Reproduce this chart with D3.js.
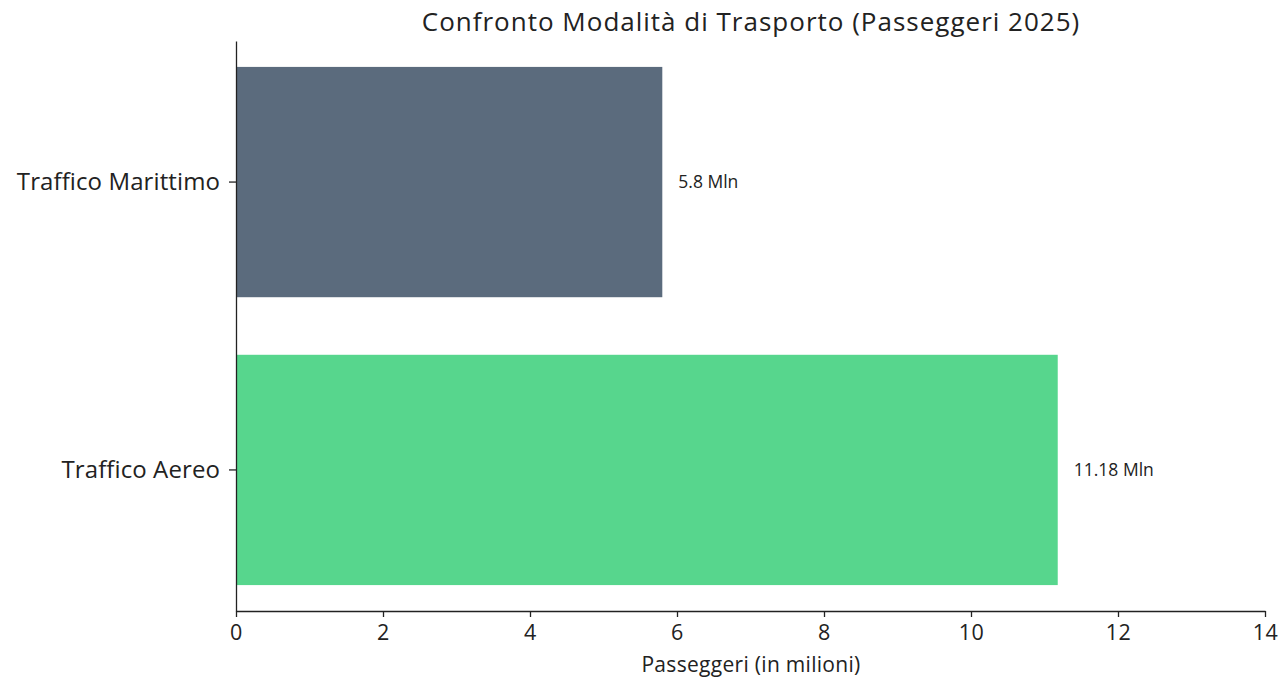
<!DOCTYPE html>
<html><head><meta charset="utf-8">
<script src="https://cdn.jsdelivr.net/npm/d3@7"></script>
<style>body{margin:0;background:#fff;} svg{display:block;} svg text{font-family:"Open Sans", "Noto Sans", sans-serif;}</style>
</head><body>
<svg id="c" width="1281" height="684"></svg>
<script>
const categories = ["Traffico Marittimo", "Traffico Aereo"];
const values = [5.8, 11.18];
const valueLabels = ["5.8 Mln", "11.18 Mln"];
const colors = ["#5b6b7d", "#57d68d"];
const xTicks = [0, 2, 4, 6, 8, 10, 12, 14];
const title = "Confronto Modalità di Trasporto (Passeggeri 2025)";
const xTitle = "Passeggeri (in milioni)";

const FONT = '"Open Sans", "Noto Sans", sans-serif';
const svg = d3.select("#c");
const m = {left: 236, right: 16, top: 41, bottom: 73};
const W = 1281, H = 684;
const x = d3.scaleLinear().domain([0, 14]).range([m.left, W - m.right]);
const y = d3.scaleBand().domain(categories).range([m.top, H - m.bottom]).paddingInner(0.2).paddingOuter(0.09);

svg.selectAll("rect.bar").data(categories).join("rect").attr("class", "bar")
  .attr("x", x(0)).attr("y", d => y(d))
  .attr("width", (d, i) => x(values[i]) - x(0)).attr("height", y.bandwidth())
  .attr("fill", (d, i) => colors[i]);

svg.selectAll("text.val").data(categories).join("text").attr("class", "val")
  .attr("x", (d, i) => x(values[i]) + 16).attr("y", d => y(d) + y.bandwidth() / 2)
  .attr("dy", "0.35em").attr("font-size", 17.5).attr("fill", "#222")
  .text((d, i) => valueLabels[i]);

const xAxis = svg.append("g").attr("transform", `translate(0,${H - m.bottom})`)
  .attr("font-family", FONT)
  .call(d3.axisBottom(x).tickValues(xTicks).tickFormat(d3.format("d")).tickSizeInner(6).tickSizeOuter(0).tickPadding(8));
xAxis.selectAll("text").attr("font-size", 21.5).attr("fill", "#222").style("letter-spacing", "0.5px");
xAxis.select(".domain").attr("stroke", "#222").attr("stroke-width", 1.3);
xAxis.selectAll(".tick line").attr("stroke", "#222").attr("stroke-width", 1.3);

const yAxis = svg.append("g").attr("transform", `translate(${m.left},0)`)
  .attr("font-family", FONT)
  .call(d3.axisLeft(y).tickSizeInner(7).tickSizeOuter(0).tickPadding(9));
yAxis.selectAll("text").attr("font-size", 24).attr("fill", "#222").style("letter-spacing", "0.1px");
yAxis.select(".domain").attr("stroke", "#222").attr("stroke-width", 1.3);
yAxis.selectAll(".tick line").attr("stroke", "#222").attr("stroke-width", 1.3);

svg.append("text").attr("x", 751).attr("y", 31).attr("text-anchor", "middle")
  .attr("font-size", 26).attr("fill", "#222").style("letter-spacing", "1px").text(title);
svg.append("text").attr("x", 751).attr("y", 672).attr("text-anchor", "middle")
  .attr("font-size", 21).attr("fill", "#222").style("letter-spacing", "0.3px").text(xTitle);
</script>
</body></html>
